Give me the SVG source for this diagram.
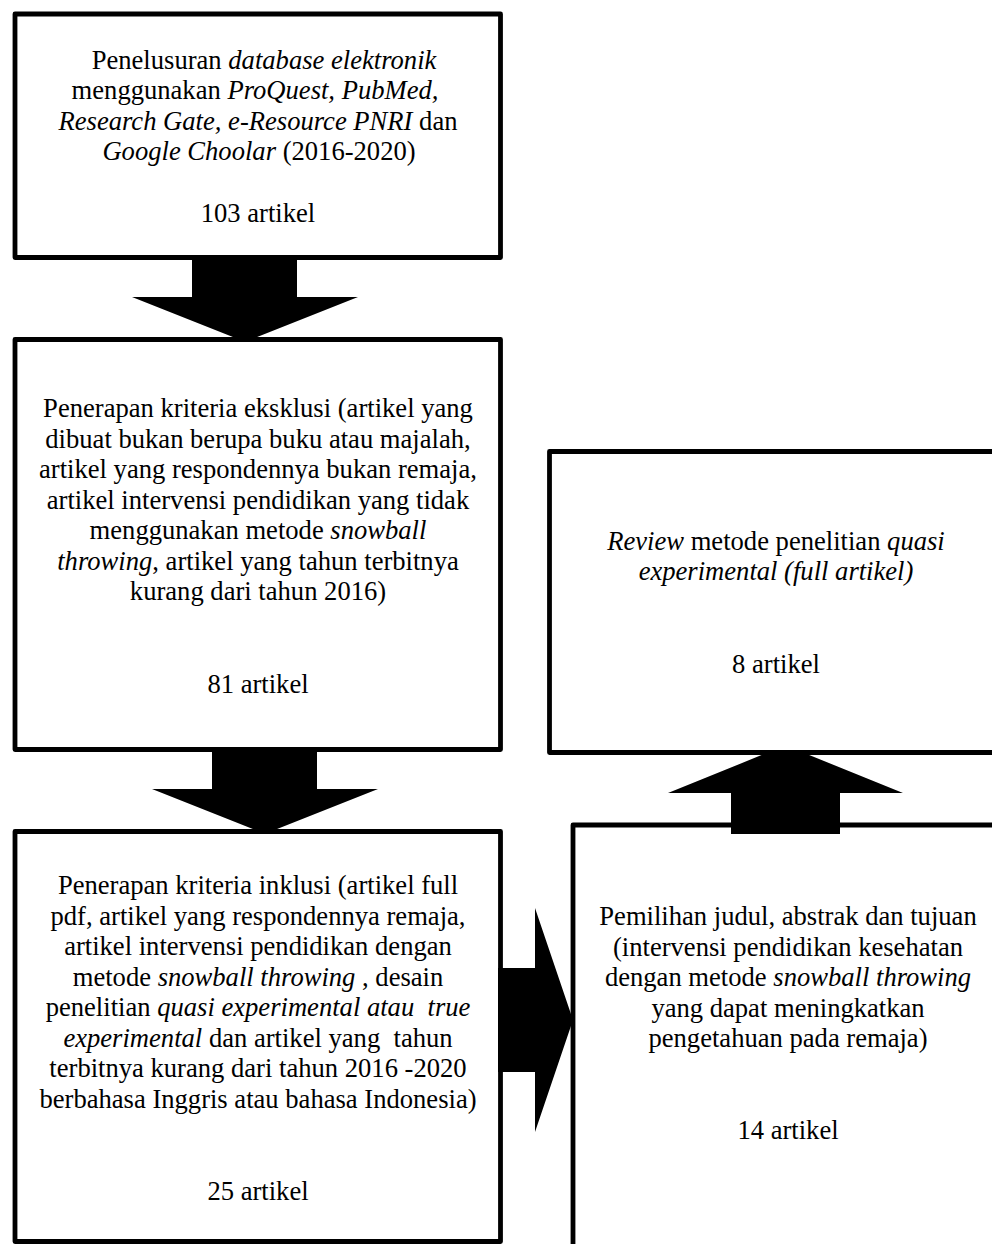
<svg xmlns="http://www.w3.org/2000/svg" width="992" height="1244" viewBox="0 0 992 1244">
<style>
.box{fill:#fff;stroke:#000;stroke-width:4.8;stroke-linejoin:round}
.t{font-family:"Liberation Serif","Times New Roman",serif;font-size:26.6px;fill:#000;text-anchor:middle}
.i{font-style:italic}
.arr{fill:#000;stroke:none}
</style>
<rect width="992" height="1244" fill="#fff"/>
<g id="node-search">
<rect class="box" x="15" y="14" width="485.5" height="243.5"/>
<text class="t" x="264" y="68.5">Penelusuran <tspan class="i">database elektronik</tspan></text>
<text class="t" x="255" y="99">menggunakan <tspan class="i">ProQuest, PubMed,</tspan></text>
<text class="t" x="258" y="129.5"><tspan class="i">Research Gate, e-Resource PNRI</tspan> dan</text>
<text class="t" x="259" y="160"><tspan class="i">Google Choolar</tspan> (2016-2020)</text>
<text class="t" x="258" y="222">103 artikel</text>
</g>
<g id="node-exclusion">
<rect class="box" x="15" y="339.5" width="485.5" height="410"/>
<text class="t" x="258" y="417">Penerapan kriteria eksklusi (artikel yang</text>
<text class="t" x="258" y="447.5">dibuat bukan berupa buku atau majalah,</text>
<text class="t" x="258" y="478">artikel yang respondennya bukan remaja,</text>
<text class="t" x="258" y="508.5">artikel intervensi pendidikan yang tidak</text>
<text class="t" x="258" y="539">menggunakan metode <tspan class="i">snowball</tspan></text>
<text class="t" x="258" y="569.5"><tspan class="i">throwing</tspan>, artikel yang tahun terbitnya</text>
<text class="t" x="258" y="600">kurang dari tahun 2016)</text>
<text class="t" x="258" y="692.5">81 artikel</text>
</g>
<g id="node-inclusion">
<rect class="box" x="15" y="831.5" width="485.5" height="410"/>
<text class="t" x="258" y="894">Penerapan kriteria inklusi (artikel full</text>
<text class="t" x="258" y="924.5">pdf, artikel yang respondennya remaja,</text>
<text class="t" x="258" y="955">artikel intervensi pendidikan dengan</text>
<text class="t" x="258" y="985.5">metode <tspan class="i">snowball throwing</tspan> , desain</text>
<text class="t" x="258" y="1016" xml:space="preserve">penelitian <tspan class="i">quasi experimental atau  true</tspan></text>
<text class="t" x="258" y="1046.5" xml:space="preserve"><tspan class="i">experimental</tspan> dan artikel yang  tahun</text>
<text class="t" x="258" y="1077">terbitnya kurang dari tahun 2016 -2020</text>
<text class="t" x="258" y="1107.5">berbahasa Inggris atau bahasa Indonesia)</text>
<text class="t" x="258" y="1199.5">25 artikel</text>
</g>
<g id="node-review">
<rect class="box" x="549.5" y="451.5" width="453" height="301"/>
<text class="t" x="776" y="549.5"><tspan class="i">Review</tspan> metode penelitian <tspan class="i">quasi</tspan></text>
<text class="t" x="776" y="580"><tspan class="i">experimental (full artikel)</tspan></text>
<text class="t" x="776" y="672.5">8 artikel</text>
</g>
<g id="node-selection">
<rect class="box" x="573" y="825" width="430" height="440"/>
<text class="t" x="788" y="925">Pemilihan judul, abstrak dan tujuan</text>
<text class="t" x="788" y="955.5">(intervensi pendidikan kesehatan</text>
<text class="t" x="788" y="986">dengan metode <tspan class="i">snowball throwing</tspan></text>
<text class="t" x="788" y="1016.5">yang dapat meningkatkan</text>
<text class="t" x="788" y="1047">pengetahuan pada remaja)</text>
<text class="t" x="788" y="1139">14 artikel</text>
</g>
<g id="connectors">
<polygon class="arr" points="192,257.5 297,257.5 297,297 358,297 250.8,339.5 239.2,339.5 132,297 192,297"/>
<polygon class="arr" points="212,749.5 317,749.5 317,789 378,789 270.8,831.5 259.2,831.5 152,789 212,789"/>
<polygon class="arr" points="498,968 535,968 535,908 573,1020 535,1132 535,1072 498,1072"/>
<polygon class="arr" points="731,834 840,834 840,793 903,793 803,752.5 768,752.5 668,793 731,793"/>
</g>
</svg>
